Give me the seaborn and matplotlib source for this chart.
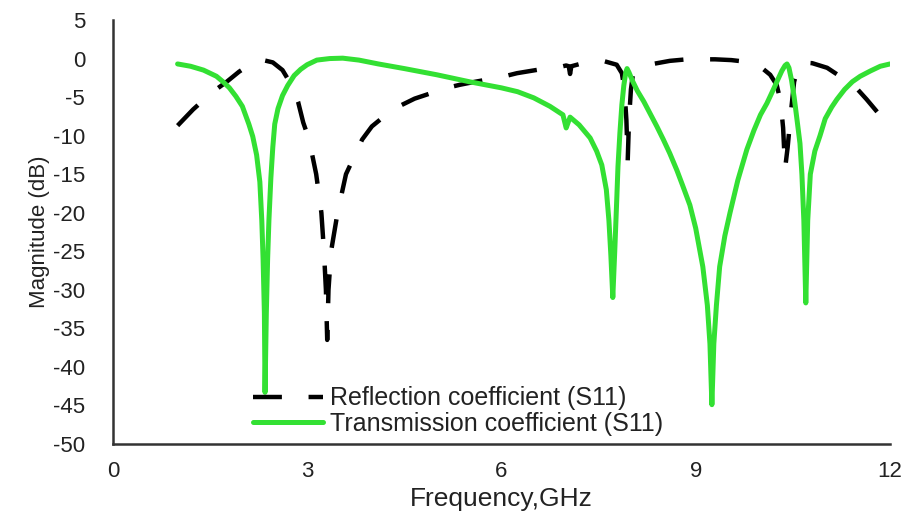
import matplotlib
matplotlib.use("Agg")
import matplotlib.pyplot as plt
import seaborn as sns
import pandas as pd

# Reflection coefficient (S11) - black dashed
refl_freq = [1.0, 1.24, 1.53, 1.76, 1.95, 2.15, 2.32, 2.47, 2.62, 2.77, 2.86, 2.94, 3.03,
             3.14, 3.22, 3.26, 3.29, 3.31, 3.33, 3.37, 3.47, 3.6, 3.85, 4.0, 4.32, 4.66,
             5.16, 5.36, 5.6, 6.0, 6.24, 6.6, 6.95, 7.0, 7.04, 7.06, 7.08, 7.3, 7.57, 7.78,
             7.86, 7.9, 7.93, 7.95, 7.97, 8.0, 8.03, 8.19, 8.34, 8.6, 8.86, 9.3, 9.55, 9.76,
             9.99, 10.15, 10.25, 10.31, 10.35, 10.38, 10.42, 10.47, 10.52, 10.58, 10.64,
             10.8, 11.03, 11.3, 11.5, 11.64, 11.85, 11.9]
refl_db = [-8.7, -6.6, -4.4, -3.0, -1.7, -0.6, -0.2, -0.5, -1.5, -3.6, -5.6, -8.3, -10.5,
           -15.0, -20.0, -25.0, -30.0, -36.5, -30.0, -25.0, -20.0, -15.0, -10.5, -8.8, -6.6, -5.2,
           -3.8, -3.4, -3.0, -2.4, -1.9, -1.4, -1.0, -0.9, -1.0, -2.0, -1.0, -0.5, -0.3, -0.8,
           -1.9, -4.0, -8.0, -13.3, -8.0, -4.0, -2.1, -1.0, -0.7, -0.3, -0.1, -0.1, -0.2, -0.4,
           -1.0, -2.1, -3.4, -5.5, -9.0, -14.3, -11.5, -7.0, -3.0, -1.2, -0.5,
           -0.6, -1.2, -2.7, -4.0, -5.3, -7.4, -7.9]

# Transmission coefficient - green solid
trans_freq = [1.0, 1.2, 1.4, 1.6, 1.7, 1.8, 1.9, 2.0, 2.1, 2.16, 2.22, 2.27, 2.3, 2.32, 2.34,
              2.35, 2.37, 2.39, 2.41, 2.44, 2.47, 2.5, 2.55, 2.62, 2.7, 2.8, 2.9, 3.0, 3.15,
              3.35, 3.55, 3.8, 4.1, 4.5, 5.0, 5.5, 6.0, 6.25, 6.5, 6.75, 6.95, 7.0, 7.03, 7.06,
              7.2, 7.37, 7.47, 7.55, 7.62, 7.66, 7.69, 7.72, 7.75, 7.78, 7.8, 7.83, 7.86, 7.89,
              7.92, 7.94, 7.97, 8.03, 8.1, 8.2, 8.3, 8.4, 8.5, 8.6, 8.71, 8.8, 8.91, 9.0, 9.11,
              9.18, 9.22, 9.25, 9.28, 9.32, 9.37, 9.45, 9.53, 9.65, 9.79, 9.9, 10.0, 10.1, 10.2,
              10.27, 10.33, 10.38, 10.41, 10.44, 10.48, 10.52, 10.57, 10.61, 10.64, 10.67, 10.7,
              10.73, 10.77, 10.84, 10.92, 11.0, 11.1, 11.18, 11.3, 11.42, 11.54, 11.7, 11.85, 12.0]
trans_db = [-0.7, -1.0, -1.5, -2.3, -3.0, -3.8, -4.9, -6.2, -8.5, -10.1, -12.5, -16.0, -21.0,
            -26.0, -33.0, -43.3, -33.0, -26.0, -21.0, -15.5, -11.5, -8.5, -6.5, -4.8, -3.5, -2.2,
            -1.4, -0.8, -0.2, 0.0, 0.05, -0.2, -0.7, -1.3, -2.1, -3.0, -3.8, -4.3, -5.1, -6.2,
            -7.3, -9.0, -8.3, -7.6, -8.6, -10.3, -12.0, -13.8, -17.0, -21.0, -25.5, -31.0, -25.0,
            -18.5, -14.0, -9.6, -6.0, -3.5, -1.8, -1.3, -1.8, -3.0, -4.2, -5.6, -7.2, -8.8,
            -10.5, -12.3, -14.5, -16.5, -19.0, -22.0, -27.0, -32.0, -37.0, -44.9, -37.0, -32.0,
            -27.0, -23.0, -20.0, -15.8, -11.8, -9.3, -7.3, -5.8, -4.0, -2.7, -1.6, -0.9, -0.7,
            -1.2, -2.8, -5.0, -8.3, -11.0, -15.0, -21.0, -31.7, -21.0, -15.0, -12.0, -10.0, -7.8,
            -6.3, -5.3, -4.0, -3.0, -2.3, -1.6, -1.0, -0.7]

x_ticks = [0, 3, 6, 9, 12]
y_ticks = list(range(-50, 6, 5))
labels = ["Reflection coefficient (S11)", "Transmission coefficient (S11)"]

sns.set_theme(style="white")
plt.rcParams["font.family"] = ["Liberation Sans", "DejaVu Sans"]
plt.rcParams["axes.unicode_minus"] = False

fig = plt.figure(figsize=(9.1, 5.13), dpi=100)
ax = fig.add_axes([0.124, 0.1345, 0.854, 0.8265])

refl_df = pd.DataFrame({"f": refl_freq, "db": refl_db})
trans_df = pd.DataFrame({"f": trans_freq, "db": trans_db})

sns.lineplot(data=refl_df, x="f", y="db", ax=ax, color="black", linewidth=3.2,
             label=labels[0], sort=False)
sns.lineplot(data=trans_df, x="f", y="db", ax=ax, color="#33e033", linewidth=3.6,
             label=labels[1], sort=False)
ax.lines[0].set_dashes([6.5, 6])
ax.lines[0].set_dash_capstyle("butt")

ax.set_xlim(0, 12)
ax.set_ylim(-50, 5)
ax.set_xticks(x_ticks)
ax.set_yticks(y_ticks)
ax.tick_params(axis="both", length=0, labelsize=16, colors="#222222")
ax.tick_params(axis="y", pad=20)
ax.tick_params(axis="x", pad=12)

ax.set_xlabel("Frequency,GHz", fontsize=19, color="#222222", labelpad=4)
ax.set_ylabel("Magnitude (dB)", fontsize=16, color="#222222", labelpad=2)

for s in ["top", "right"]:
    ax.spines[s].set_visible(False)
for s in ["left", "bottom"]:
    ax.spines[s].set_color("#333333")
    ax.spines[s].set_linewidth(1.8)

leg = ax.legend(loc="center left", bbox_to_anchor=(0.18, 0.078), frameon=False,
                fontsize=18, handlelength=2.8, handletextpad=0.3, labelspacing=0.05,
                borderpad=0, borderaxespad=0)
for t in leg.get_texts():
    t.set_color("#222222")

fig.savefig("out.png", dpi=100)
